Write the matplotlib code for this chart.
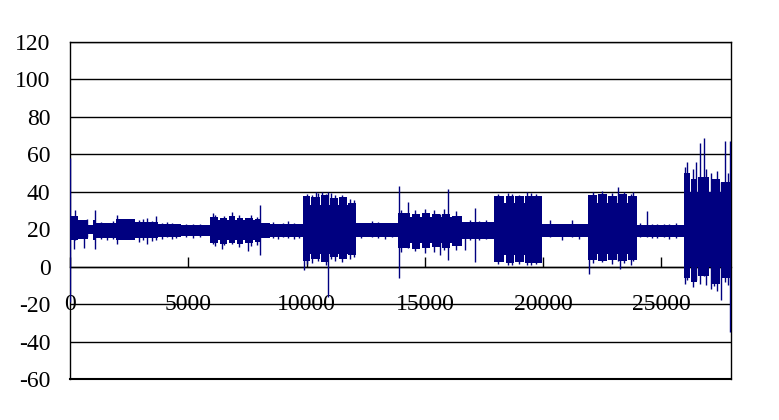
import matplotlib
matplotlib.use("Agg")
import matplotlib.pyplot as plt

plt.rcParams["font.family"] = ["Liberation Serif", "DejaVu Serif"]
plt.rcParams["axes.unicode_minus"] = False

# Envelope segments of the signal (sample start, sample end, low, high).
seg_start = [0, 340, 760, 970, 1100, 1940, 2750, 3720, 4700,
             5900, 6270, 6320, 6620, 6700, 6980, 7050, 7330, 7400, 7750, 7820, 8030, 8450,
             9850, 10150, 10190, 10570, 10600, 10920, 10990, 11340, 11385, 11700, 11740, 12090,
             13850, 14370, 14440, 14800, 14870, 15220, 15290, 15640, 15710, 16060, 16130, 16560,
             17910, 18330, 18430, 18760, 18830, 19180, 19250, 19950,
             21880, 22260, 22320, 22700, 22740, 23120, 23165, 23540, 23580, 23960,
             25950, 26200, 26260, 26500, 26550, 27020, 27080, 27460, 27500]
seg_end = seg_start[1:] + [27940]
seg_low = [14, 15, 17.5, 14, 15.5, 14, 15.5, 16, 16.5,
           12.5, 14, 12, 14, 12.5, 14, 12, 14, 12.5, 14, 13, 15.5, 16,
           3, 7, 4, 7, 2.5, 7, 5, 7, 4, 7, 6, 16,
           10, 12.5, 9.5, 12.5, 10, 12.5, 10.5, 12.5, 10, 12.5, 11, 15,
           2.5, 6, 2, 6, 2.5, 6, 2, 16,
           3.5, 7, 3, 7, 3.5, 7, 3, 7, 3.5, 16,
           -6, 0, -8, 0, -5, 0, -9, 0, -6]
seg_high = [27, 25, 22, 25, 23.5, 25.5, 24, 23, 22.5,
            26.5, 25, 26, 25, 27, 25, 26, 25, 26, 25, 25.5, 23.5, 23,
            38, 33, 37, 33, 38.5, 33, 36.5, 33, 37, 33, 34, 23.5,
            28.5, 26.5, 28, 26.5, 28.5, 26.5, 28, 26.5, 28, 26.5, 27, 24,
            37.5, 34, 38, 34, 37.5, 34, 38, 23,
            38.5, 34, 39, 34, 38, 34, 39, 34, 38, 22.5,
            50, 40, 47, 40, 48, 40, 47, 40, 45]

# Single spikes sticking out of the envelope (sample, low, high).
spike_x = [0, 170, 225, 590, 720, 1070, 1300, 1550, 1800, 2000, 2900, 3100, 3255, 3450, 3650,
           3900, 4100, 4300, 4500, 4900, 5200, 5500,
           6030, 6150, 6410, 6500, 6830, 7150, 7510, 7650, 7900, 8030,
           8600, 8800, 9000, 9200, 9450, 9700,
           9900, 10000, 10250, 10400, 10500, 10650, 10800, 10906, 11050, 11200, 11500,
           11850, 12000, 12300, 12750, 13000, 13300, 13600, 13907,
           14000, 14300, 14600, 15000, 15400, 15640, 15800, 15990, 16300,
           16710, 16900, 17107, 17300, 17600,
           18100, 18500, 18700, 19000, 19300, 19500, 19700,
           20290, 20800, 21200, 21500,
           21950, 22100, 22500, 22900, 23180, 23250, 23400, 23700, 23810,
           24100, 24390, 24600, 24800, 25100, 25300, 25600,
           26000, 26080, 26350, 26450, 26640, 26785, 26900, 27100, 27210, 27350,
           27530, 27700, 27800, 27898]
spike_low = [-19, 9.5, 14, 10, 16, 9.6, 15, 14.5, 15, 12, 13, 14, 12, 13.5, 14,
             15, 16, 15, 15.5, 16, 15.5, 16,
             12, 11, 9.5, 11.5, 12, 10.5, 8.5, 11, 11.5, 6.4,
             15.5, 15, 16, 15.5, 15, 15.5,
             -2, 1.5, 2, 5, 3, 3, 1, -16, 4, 3, 2.5,
             4, 5, 15.5, 16, 15.5, 15, 16, -6,
             8, 10, 8.5, 7.5, 8, 6, 9, 3.7, 9,
             9, 14.5, 2.5, 14, 15,
             1.5, 1, 1, 1.5, 1, 1, 1.5,
             16, 14.5, 16, 15,
             -3.7, 2, 2.5, 1.5, 3, -1, 2, 1, 3,
             16, 16, 15.5, 15.5, 16, 15, 15.5,
             -9, -7, -11, -7, -9, -5, -10, -12, -10.5, -13,
             -17.6, -8, -10, -35]
spike_high = [58, 26, 30, 24, 25.5, 30, 24, 23.5, 24.5, 27.4, 25, 25.5, 26, 24.5, 27,
              23.5, 24, 23.5, 23, 23, 23, 22.8,
              28.5, 27.5, 25, 27, 29, 27.5, 26, 27.5, 26.5, 33,
              24, 23, 23.5, 24.5, 23.5, 23,
              38, 39, 38.5, 40, 39.5, 40, 39, 40, 39.5, 38.5, 38.5,
              36, 35.5, 23.5, 24.3, 24, 23, 23.5, 43.3,
              30, 34.7, 30.5, 31, 30, 28, 31, 41.7, 29.5,
              24, 25, 31.5, 24.5, 25,
              39, 39.5, 39, 38.5, 40, 39.5, 39,
              25, 22, 25, 22,
              38, 40, 40.5, 39.5, 42.8, 38, 40, 39, 40,
              23.5, 29.6, 23, 23, 23, 23, 23.5,
              53, 56, 52, 56, 66, 68.8, 52, 50, 46, 51,
              45, 67, 50, 67]

x_ticks = [0, 5000, 10000, 15000, 20000, 25000]
y_ticks = [-60, -40, -20, 0, 20, 40, 60, 80, 100, 120]

line_color = "#000080"

fig = plt.figure(figsize=(7.79, 4.20), dpi=100)
ax = fig.add_axes([70 / 779, 1 - 379 / 420, 661 / 779, 337 / 420])

widths = [e - s for s, e in zip(seg_start, seg_end)]
heights = [h - l for l, h in zip(seg_low, seg_high)]
ax.bar(seg_start, heights, width=widths, bottom=seg_low, align="edge",
       color=line_color, linewidth=0, zorder=3)
ax.vlines(spike_x, spike_low, spike_high, color=line_color, linewidth=1, zorder=3)

ax.set_xlim(0, 27940)
ax.set_ylim(-60, 120)
ax.set_yticks(y_ticks)
ax.set_xticks(x_ticks)
ax.grid(axis="y", color="black", linewidth=1)
ax.set_axisbelow(True)

for side in ["left", "right", "top"]:
    ax.spines[side].set_color("black")
    ax.spines[side].set_linewidth(1)
ax.spines["bottom"].set_position(("data", 0))
ax.spines["bottom"].set_linewidth(1)
ax.axhline(-60, color="black", linewidth=1.5, clip_on=False, zorder=1)

ax.tick_params(axis="y", length=0, pad=14, labelsize=17)
ax.tick_params(axis="x", direction="in", length=7, width=1, pad=20, labelsize=17)

fig.savefig("out.png", dpi=100)
